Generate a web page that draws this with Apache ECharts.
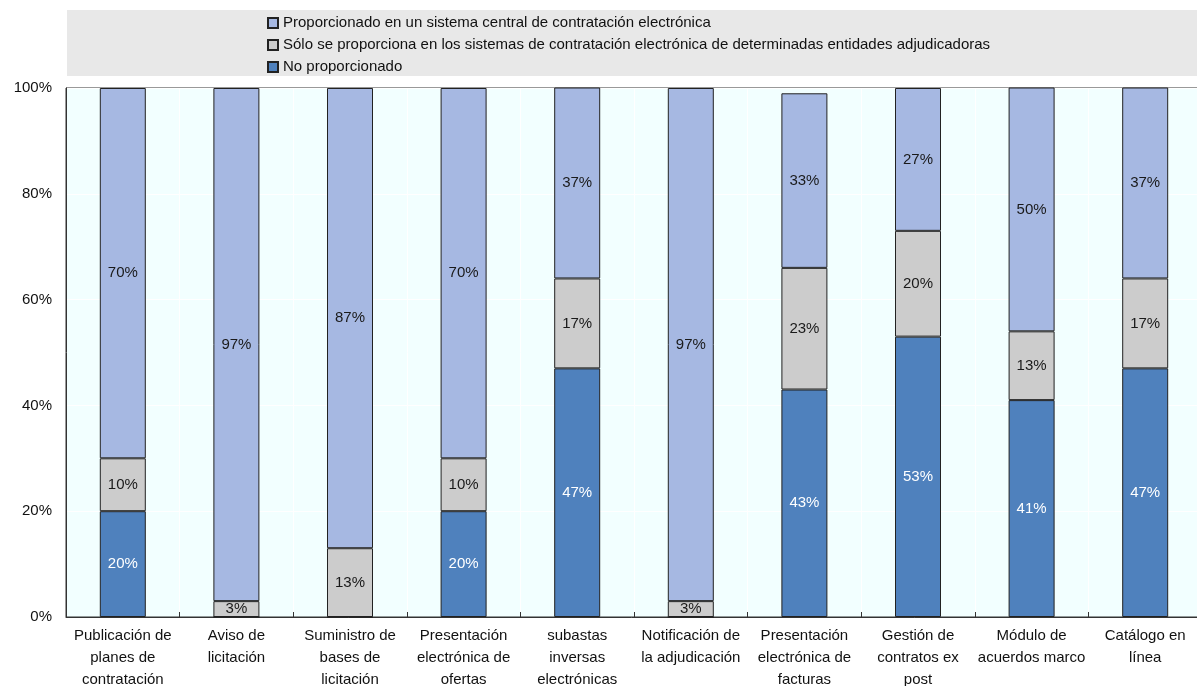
<!DOCTYPE html>
<html>
<head>
<meta charset="utf-8">
<script src="https://cdn.jsdelivr.net/npm/echarts@6/dist/echarts.min.js"></script>
<style>
  html, body { margin: 0; padding: 0; background: #ffffff; }
  #chart { width: 1197px; height: 686px; }
</style>
</head>
<body>
<div id="chart"></div>
<script>
// Categories (line breaks as shown under each bar)
const categories = [
  'Publicación de\nplanes de\ncontratación',
  'Aviso de\nlicitación',
  'Suministro de\nbases de\nlicitación',
  'Presentación\nelectrónica de\nofertas',
  'subastas\ninversas\nelectrónicas',
  'Notificación de\nla adjudicación',
  'Presentación\nelectrónica de\nfacturas',
  'Gestión de\ncontratos ex\npost',
  'Módulo de\nacuerdos marco',
  'Catálogo en\nlínea'
];

// Series names
const nameCentral = 'Proporcionado en un sistema central de contratación electrónica';
const nameSome = 'Sólo se proporciona en los sistemas de contratación electrónica de determinadas entidades adjudicadoras';
const nameNone = 'No proporcionado';

// Shares (%) per category
const noProporcionado = [20, 0, 0, 20, 47, 0, 43, 53, 41, 47];
const soloAlgunas = [10, 3, 13, 10, 17, 3, 23, 20, 13, 17];
const sistemaCentral = [70, 97, 87, 70, 37, 97, 33, 27, 50, 37];

// Y axis ticks
const yTicks = [0, 20, 40, 60, 80, 100];

const FONT = '"Liberation Sans", Arial, sans-serif';

function pctLabel(color) {
  return {
    show: true,
    position: 'inside',
    color: color,
    fontFamily: FONT,
    fontSize: 15,
    formatter: p => (p.value ? p.value + '%' : '')
  };
}

function barSeries(name, data, color, labelColor) {
  return {
    name: name,
    type: 'bar',
    stack: 'total',
    barWidth: 46,
    data: data,
    itemStyle: { color: color, borderColor: '#222222', borderWidth: 1 },
    label: pctLabel(labelColor),
    emphasis: { disabled: true }
  };
}

const chart = echarts.init(document.getElementById('chart'), null, { renderer: 'canvas' });

chart.setOption({
  animation: false,
  graphic: [{
    type: 'rect',
    left: 67,
    top: 10,
    z: -10,
    shape: { width: 1140, height: 66 },
    style: { fill: '#e8e8e8' }
  }],
  legend: {
    orient: 'vertical',
    left: 262,
    top: 10,
    itemWidth: 10,
    itemHeight: 10,
    itemGap: 6,
    icon: 'rect',
    data: [nameCentral, nameSome, nameNone],
    textStyle: { fontFamily: FONT, fontSize: 15, color: '#111111', lineHeight: 16 }
  },
  grid: {
    left: 66,
    top: 88,
    width: 1136,
    height: 529,
    containLabel: false,
    outerBoundsMode: 'none',
    show: true,
    backgroundColor: '#f2ffff',
    borderColor: '#333333',
    borderWidth: 1
  },
  xAxis: {
    type: 'category',
    data: categories,
    axisLine: { lineStyle: { color: '#333333', width: 1 } },
    axisTick: { show: true, inside: true, length: 5, lineStyle: { color: '#333333' } },
    splitLine: { show: true, interval: 0, lineStyle: { color: '#ffffff', width: 1 } },
    axisLabel: {
      interval: 0,
      margin: 8,
      fontFamily: FONT,
      fontSize: 15,
      lineHeight: 22,
      color: '#111111'
    }
  },
  yAxis: {
    type: 'value',
    min: yTicks[0],
    max: yTicks[yTicks.length - 1],
    interval: 20,
    axisLine: { show: true, lineStyle: { color: '#333333', width: 1 } },
    axisTick: { show: false },
    splitLine: { show: true, lineStyle: { color: '#ffffff', width: 1 } },
    axisLabel: {
      margin: 14,
      fontFamily: FONT,
      fontSize: 15,
      color: '#111111',
      formatter: v => (yTicks.indexOf(v) >= 0 ? v + '%' : '')
    }
  },
  series: [
    barSeries(nameNone, noProporcionado, '#4f81bd', '#ffffff'),
    barSeries(nameSome, soloAlgunas, '#cccccc', '#1a1a1a'),
    barSeries(nameCentral, sistemaCentral, '#a6b8e2', '#1a1a1a')
  ]
});
</script>
</body>
</html>
